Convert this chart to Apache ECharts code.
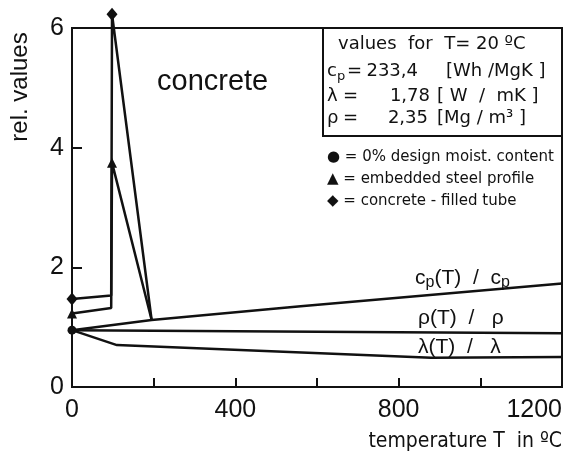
<!DOCTYPE html>
<html>
<head>
<meta charset="utf-8">
<script src="https://cdn.jsdelivr.net/npm/echarts@6/dist/echarts.min.js"></script>
<style>
html,body{margin:0;padding:0;background:#fff;}
#c{width:569px;height:468px;}
</style>
</head>
<body>
<div id="c"></div>
<script>
// ---- data ----
var xTicks = [0, 400, 800, 1200];
var yTicks = [0, 2, 4, 6];

// c_p(T)/c_p  (0 % design moisture content, circle at start)
var cpTemp = [0, 195, 560, 1200];
var cpVals = [0.95, 1.12, 1.35, 1.73];

// embedded steel profile (triangle)
var steelTemp = [0, 96, 98, 195];
var steelVals = [1.23, 1.32, 3.75, 1.12];

// concrete-filled tube (diamond)
var tubeTemp = [0, 96, 98, 195];
var tubeVals = [1.47, 1.53, 6.23, 1.12];

// rho(T)/rho
var rhoTemp = [0, 1200];
var rhoVals = [0.95, 0.90];

// lambda(T)/lambda
var lamTemp = [0, 110, 880, 1200];
var lamVals = [0.95, 0.70, 0.49, 0.50];

// reference values table
var tableSymbols = ['c', 'λ', 'ρ'];
var tableValues = ['233,4', '1,78', '2,35'];
var tableUnits = ['[Wh /MgK ]', '[ W  /  mK ]', '[Mg / m³ ]'];

// ---- helpers ----
var SANS = "'Liberation Sans', Arial, sans-serif";
var NARROW = "'Liberation Sans Narrow', 'DejaVu Sans Condensed', 'Liberation Sans', sans-serif";
var BOXF = "'DejaVu Sans', 'Liberation Sans', sans-serif";

function pairs(xs, ys) {
  return xs.map(function (x, i) { return [x, ys[i]]; });
}
// show marker only at the first point and at the peak
function marked(xs, ys, symbol, size) {
  var peak = ys.indexOf(Math.max.apply(null, ys));
  return xs.map(function (x, i) {
    var item = { value: [x, ys[i]] };
    if (i === 0 || (i === peak && peak !== ys.length - 1 && symbol !== 'circle')) {
      item.symbol = symbol; item.symbolSize = size;
    } else {
      item.symbol = 'none';
    }
    return item;
  });
}

var lineStyle = { color: '#111', width: 2.5 };
function lineSeries(name, data) {
  return {
    name: name, type: 'line', data: data, clip: false,
    lineStyle: lineStyle, itemStyle: { color: '#111' },
    showAllSymbol: true, animation: false, z: 3
  };
}
function txt(x, y, text, font, align, extra) {
  var o = { type: 'text', x: x, y: y, z: 6,
    style: { text: text, font: font, fill: '#111', textAlign: align || 'left', textVerticalAlign: 'middle' } };
  if (extra) { for (var k in extra) o[k] = extra[k]; }
  return o;
}

var rowY = [71, 96, 118];
var eqX = [347, 343, 343];
var valRight = [418, 430, 428];
var unitLeft = [446, 437, 437];
var graphics = [
  txt(20, 87, 'rel. values', '24px ' + SANS, 'center', { rotation: Math.PI / 2 }),
  txt(562, 442, 'temperature T  in ºC', '21px ' + NARROW, 'right'),
  txt(157, 82, 'concrete', '29px ' + SANS, 'left'),
  { type: 'rect', shape: { x: 323, y: 28, width: 239, height: 108 },
    style: { fill: '#fff', stroke: '#111', lineWidth: 2 }, z: 5 },
  txt(338, 44, 'values  for  T= 20 ºC', '18px ' + BOXF, 'left'),
  { type: 'text', x: 327, y: rowY[0], z: 6,
    style: { text: '{m|' + tableSymbols[0] + '}{s|p}', fill: '#111', textAlign: 'left', textVerticalAlign: 'middle',
      rich: { m: { fontSize: 18, fontFamily: BOXF, lineHeight: 24, verticalAlign: 'middle' },
              s: { fontSize: 13, fontFamily: BOXF, lineHeight: 12, verticalAlign: 'bottom' } } } },
  txt(327, rowY[1], tableSymbols[1], '18px ' + BOXF, 'left'),
  txt(327, rowY[2], tableSymbols[2], '18px ' + BOXF, 'left')
];
for (var r = 0; r < 3; r++) {
  graphics.push(txt(eqX[r], rowY[r], '=', '18px ' + BOXF, 'left'));
  graphics.push(txt(valRight[r], rowY[r], tableValues[r], '18px ' + BOXF, 'right'));
  graphics.push(txt(unitLeft[r], rowY[r], tableUnits[r], '18px ' + BOXF, 'left'));
}
graphics.push(txt(327, 157, '● = 0% design moist. content', '15px ' + BOXF, 'left'));
graphics.push(txt(327, 179, '▲ = embedded steel profile', '15px ' + BOXF, 'left'));
graphics.push(txt(327, 201, '◆ = concrete - filled tube', '15px ' + BOXF, 'left'));
graphics.push({ type: 'text', x: 415, y: 278, z: 6,
  style: { text: '{m|c}{s|p}{m|(T)  /  c}{s|p}', fill: '#111', textAlign: 'left', textVerticalAlign: 'middle',
    rich: { m: { fontSize: 21, fontFamily: SANS, lineHeight: 26, verticalAlign: 'middle' },
            s: { fontSize: 16, fontFamily: SANS, lineHeight: 14, verticalAlign: 'bottom' } } } });
graphics.push(txt(418, 318, 'ρ(T)  /   ρ', '21px ' + SANS, 'left'));
graphics.push(txt(418, 347, 'λ(T)  /   λ', '21px ' + SANS, 'left'));

var chart = echarts.init(document.getElementById('c'), null, { renderer: 'canvas' });
chart.setOption({
  backgroundColor: '#fff',
  animation: false,
  grid: { left: 72, top: 28, right: 7, bottom: 81, show: true, borderColor: '#111', borderWidth: 2,
          containLabel: false, outerBoundsMode: 'none' },
  xAxis: {
    type: 'value', min: 0, max: 1200, interval: 200,
    axisLine: { show: true, lineStyle: { color: '#111', width: 2 } },
    axisTick: { show: true, inside: true, length: 9, lineStyle: { color: '#111', width: 2 } },
    splitLine: { show: false },
    axisLabel: {
      margin: 11, color: '#111', fontFamily: SANS, fontSize: 25, alignMaxLabel: 'right',
      formatter: function (v) { return xTicks.indexOf(v) >= 0 ? String(v) : ''; }
    }
  },
  yAxis: {
    type: 'value', min: 0, max: 6, interval: 2,
    axisLine: { show: true, lineStyle: { color: '#111', width: 2 } },
    axisTick: { show: true, inside: true, length: 10, lineStyle: { color: '#111', width: 2 } },
    splitLine: { show: false },
    axisLabel: {
      margin: 8, color: '#111', fontFamily: SANS, fontSize: 25,
      formatter: function (v) { return yTicks.indexOf(v) >= 0 ? String(v) : ''; }
    }
  },
  series: [
    lineSeries('c_p(T)/c_p', marked(cpTemp, cpVals, 'circle', 9)),
    lineSeries('embedded steel profile', marked(steelTemp, steelVals, 'triangle', 10)),
    lineSeries('concrete-filled tube', marked(tubeTemp, tubeVals, 'diamond', [11, 13])),
    lineSeries('rho(T)/rho', pairs(rhoTemp, rhoVals).map(function (p) { return { value: p, symbol: 'none' }; })),
    lineSeries('lambda(T)/lambda', pairs(lamTemp, lamVals).map(function (p) { return { value: p, symbol: 'none' }; }))
  ],
  graphic: graphics
});
</script>
</body>
</html>
